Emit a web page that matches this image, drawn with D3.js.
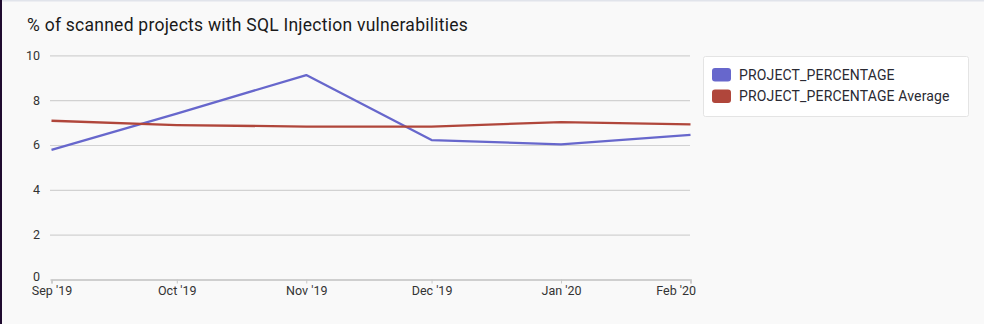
<!DOCTYPE html>
<html>
<head>
<meta charset="utf-8">
<script src="https://cdn.jsdelivr.net/npm/d3@7"></script>
<style>
  html, body { margin: 0; padding: 0; background: #f9f9f9; }
  svg { display: block; }
  text { font-family: Roboto, "Noto Sans", sans-serif; }
</style>
</head>
<body>
<svg id="chart" width="984" height="324"></svg>
<script>
// Monthly points (first of each month)
const months = ["2019-09-01", "2019-10-01", "2019-11-01", "2019-12-01", "2020-01-01", "2020-02-01"];
const projectPercentage = [5.78, 7.40, 9.12, 6.22, 6.03, 6.45];
const projectPercentageAvg = [7.08, 6.89, 6.82, 6.82, 7.02, 6.92];
const yTicks = [0, 2, 4, 6, 8, 10];
const seriesNames = ["PROJECT_PERCENTAGE", "PROJECT_PERCENTAGE Average"];
const seriesColors = ["#6767cc", "#b0463b"];
const title = "% of scanned projects with SQL Injection vulnerabilities";

const parse = d3.utcParse("%Y-%m-%d");
const dates = months.map(parse);

const svg = d3.select("#chart");

// panel frame
svg.append("rect").attr("x", 0).attr("y", 0).attr("width", 984).attr("height", 324).attr("fill", "#f9f9f9");
svg.append("rect").attr("x", 0).attr("y", 0).attr("width", 984).attr("height", 1.5).attr("fill", "#e1e4eb");
svg.append("rect").attr("x", 0).attr("y", 0).attr("width", 2).attr("height", 324).attr("fill", "#1f0b2f");

svg.append("text")
  .attr("x", 27).attr("y", 31)
  .attr("font-size", 17.5).attr("letter-spacing", 0.25).attr("fill", "#1a1a1a")
  .text(title);

const x = d3.scaleUtc().domain([dates[0], dates[dates.length - 1]]).range([51.5, 690.5]);
const y = d3.scaleLinear().domain([0, 10]).range([279.5, 55.3]);

// horizontal gridlines + y labels
const yAxis = svg.append("g")
  .attr("transform", "translate(50,0)")
  .call(d3.axisLeft(y).tickValues(yTicks).tickSize(-640).tickPadding(10).tickFormat(d3.format("d")));
yAxis.select(".domain").remove();
yAxis.selectAll(".tick line").attr("stroke", "#d2d2d2").attr("stroke-width", 1.2);
yAxis.selectAll(".tick text").attr("font-size", 12.5).attr("fill", "#333")
  .attr("font-family", "Roboto, sans-serif");
yAxis.selectAll(".tick").filter(d => d === 0).select("text").attr("dy", "0.1em");

// x axis
const xAxis = svg.append("g")
  .attr("transform", `translate(0,${y(0)})`)
  .call(d3.axisBottom(x).tickValues(dates).tickSize(4).tickPadding(3).tickFormat(d3.utcFormat("%b '%y")));
xAxis.select(".domain").attr("stroke", "#c8c8c8").attr("stroke-width", 1.6);
xAxis.selectAll(".tick line").attr("stroke", "#c8c8c8").attr("stroke-width", 1);
xAxis.selectAll(".tick text").attr("font-size", 12.5).attr("fill", "#333")
  .attr("font-family", "Roboto, sans-serif");
xAxis.selectAll(".tick").filter((d, i) => i === dates.length - 1).select("text")
  .attr("text-anchor", "end").attr("dx", 5);

// series lines
const line = d3.line().x((d, i) => x(dates[i])).y(d => y(d));
[projectPercentage, projectPercentageAvg].forEach((vals, k) => {
  svg.append("path")
    .datum(vals)
    .attr("fill", "none")
    .attr("stroke", seriesColors[k])
    .attr("stroke-width", 2.3)
    .attr("stroke-linejoin", "round")
    .attr("d", line);
});

// legend
const lg = svg.append("g").attr("transform", "translate(703,56)");
lg.append("rect").attr("x", 0.5).attr("y", 0.5).attr("width", 265).attr("height", 60)
  .attr("rx", 2).attr("fill", "#fff").attr("stroke", "#e4e4e4");
seriesNames.forEach((name, i) => {
  const row = lg.append("g").attr("transform", `translate(9,${12 + i * 21.5})`);
  row.append("rect").attr("width", 19).attr("height", 13.5).attr("rx", 3).attr("fill", seriesColors[i]);
  row.append("text").attr("x", 27).attr("y", 11.5).attr("font-size", 14).attr("letter-spacing", 0.15)
    .attr("fill", "#2a2a33").text(name);
});
</script>
</body>
</html>
